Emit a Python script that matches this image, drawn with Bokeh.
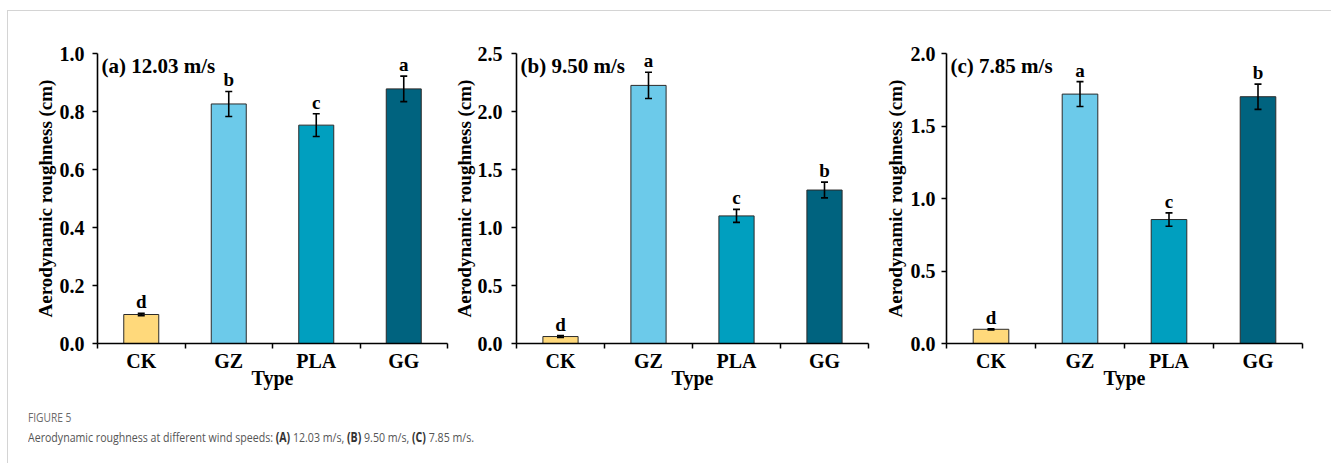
from bokeh.plotting import figure
from bokeh.models import (ColumnDataSource, Whisker, TeeHead, FixedTicker, Label, Div,
                          Range1d, PrintfTickFormatter)
from bokeh.layouts import row, column
from bokeh.embed import file_html
from bokeh.resources import INLINE
from bokeh.core.properties import value

# ---------------- data ----------------
types = ["CK", "GZ", "PLA", "GG"]
bar_colors = ["#FFD97B", "#6CCAEA", "#009FBF", "#00637F"]

a_vals = [0.100, 0.826, 0.753, 0.878]
a_errs = [0.004, 0.043, 0.039, 0.044]
a_letters = ["d", "b", "c", "a"]

b_vals = [0.060, 2.225, 1.100, 1.323]
b_errs = [0.008, 0.113, 0.056, 0.068]
b_letters = ["d", "a", "c", "b"]

c_vals = [0.098, 1.720, 0.855, 1.702]
c_errs = [0.004, 0.086, 0.046, 0.087]
c_letters = ["d", "a", "c", "b"]

y_ends = [1.0, 2.5, 2.0]
y_ticks_a = [0.0, 0.2, 0.4, 0.6, 0.8, 1.0]
y_ticks_b = [0.0, 0.5, 1.0, 1.5, 2.0, 2.5]
y_ticks_c = [0.0, 0.5, 1.0, 1.5, 2.0]
panel_titles = ["(a) 12.03 m/s", "(b) 9.50 m/s", "(c) 7.85 m/s"]
y_title = "Aerodynamic roughness (cm)"
x_title = "Type"

SERIF = value("Liberation Serif")


def panel(vals, errs, letters, y_end, yticks, title, left, right, frame_w,
          label_standoff, title_standoff):
    xs = [i + 0.5 for i in range(len(types))]
    src = ColumnDataSource(dict(
        x=xs, top=vals, color=bar_colors, letter=letters,
        upper=[v + e for v, e in zip(vals, errs)],
        lower=[v - e for v, e in zip(vals, errs)],
    ))
    p = figure(frame_width=frame_w, frame_height=290,
               x_range=Range1d(0, len(types)), y_range=Range1d(0, y_end),
               output_backend="svg", toolbar_location=None,
               min_border_left=left, min_border_right=right,
               min_border_top=42, min_border_bottom=48)
    p.outline_line_color = None
    p.xgrid.visible = False
    p.ygrid.visible = False
    p.background_fill_color = "white"
    p.border_fill_color = "white"

    p.vbar(x="x", top="top", bottom=0, width=0.4, source=src,
           fill_color="color", line_color="#2b2b2b", line_width=1)
    w = Whisker(source=src, base="x", upper="upper", lower="lower",
                line_color="black", line_width=1.6, level="overlay",
                upper_head=TeeHead(size=7, line_width=1.6, line_color="black"),
                lower_head=TeeHead(size=7, line_width=1.6, line_color="black"))
    p.add_layout(w)
    p.text(x="x", y="upper", text="letter", source=src, text_align="center",
           text_baseline="bottom", y_offset=-1, text_font=SERIF,
           text_font_style="bold", text_font_size="19px", text_color="black")

    p.add_layout(Label(x=0, y=y_end, x_offset=4, y_offset=-12, text=title,
                       text_baseline="middle", text_align="left",
                       text_font="Liberation Serif", text_font_style="bold",
                       text_font_size="21px", text_color="black"))

    # x axis: labels at category centres, ticks at category boundaries
    xa = p.xaxis[0]
    xa.ticker = FixedTicker(ticks=xs, minor_ticks=list(range(len(types) + 1)))
    xa.major_label_overrides = {x: t for x, t in zip(xs, types)}
    xa.major_tick_in = 0
    xa.major_tick_out = 0
    xa.minor_tick_in = 0
    xa.minor_tick_out = 5
    xa.minor_tick_line_width = 1.5
    xa.minor_tick_line_color = "black"
    xa.axis_line_width = 1.6
    xa.axis_line_color = "black"
    xa.major_label_text_font = "Liberation Serif"
    xa.major_label_text_font_style = "bold"
    xa.major_label_text_font_size = "20px"
    xa.major_label_text_color = "black"
    xa.major_label_standoff = 1
    xa.axis_label = x_title
    xa.axis_label_text_font = "Liberation Serif"
    xa.axis_label_text_font_style = "bold"
    xa.axis_label_text_font_size = "20px"
    xa.axis_label_text_color = "black"
    xa.axis_label_standoff = -8

    ya = p.yaxis[0]
    ya.ticker = FixedTicker(ticks=yticks, minor_ticks=[])
    ya.formatter = PrintfTickFormatter(format="%.1f")
    ya.major_tick_in = 0
    ya.major_tick_out = 5
    ya.minor_tick_in = 0
    ya.minor_tick_out = 0
    ya.major_tick_line_width = 1.5
    ya.major_tick_line_color = "black"
    ya.axis_line_width = 1.6
    ya.axis_line_color = "black"
    ya.major_label_text_font = "Liberation Serif"
    ya.major_label_text_font_style = "bold"
    ya.major_label_text_font_size = "20px"
    ya.major_label_text_color = "black"
    ya.major_label_standoff = label_standoff
    ya.axis_label = y_title
    ya.axis_label_text_font = "Liberation Serif"
    ya.axis_label_text_font_style = "bold"
    ya.axis_label_text_font_size = "19px"
    ya.axis_label_text_color = "black"
    ya.axis_label_standoff = title_standoff
    return p


pa = panel(a_vals, a_errs, a_letters, y_ends[0], y_ticks_a, panel_titles[0],
           89, 3, 350, 8, 1)
pb = panel(b_vals, b_errs, b_letters, y_ends[1], y_ticks_b, panel_titles[1],
           65, 13, 352, 9, 0)
pc = panel(c_vals, c_errs, c_letters, y_ends[2], y_ticks_c, panel_titles[2],
           63, 31, 356, 6, 2)

caption = Div(
    text=('<div style="transform:scaleX(0.785);transform-origin:0 0;white-space:nowrap;'
          'font-family:\'Open Sans\',sans-serif;">'
          '<div style="color:#6b6b6b;font-size:13px;line-height:20px;">FIGURE 5</div>'
          '<div style="color:#555555;font-size:13.5px;line-height:20px;">'
          'Aerodynamic roughness at different wind speeds: <b style="color:#333">(A)</b> 12.03 m/s, '
          '<b style="color:#333">(B)</b> 9.50 m/s, <b style="color:#333">(C)</b> 7.85 m/s.</div>'
          '</div>'),
    width=1300, height=62,
    styles={"padding-left": "15px", "padding-top": "11px"})

layout = column(row(pa, pb, pc), caption,
                styles={"border-top": "1px solid #d4d4d4",
                        "border-left": "1px solid #d4d4d4",
                        "border-right": "1px solid #d4d4d4",
                        "margin-top": "10px", "margin-left": "7px"})

open("out.html", "w").write(file_html(layout, INLINE))
